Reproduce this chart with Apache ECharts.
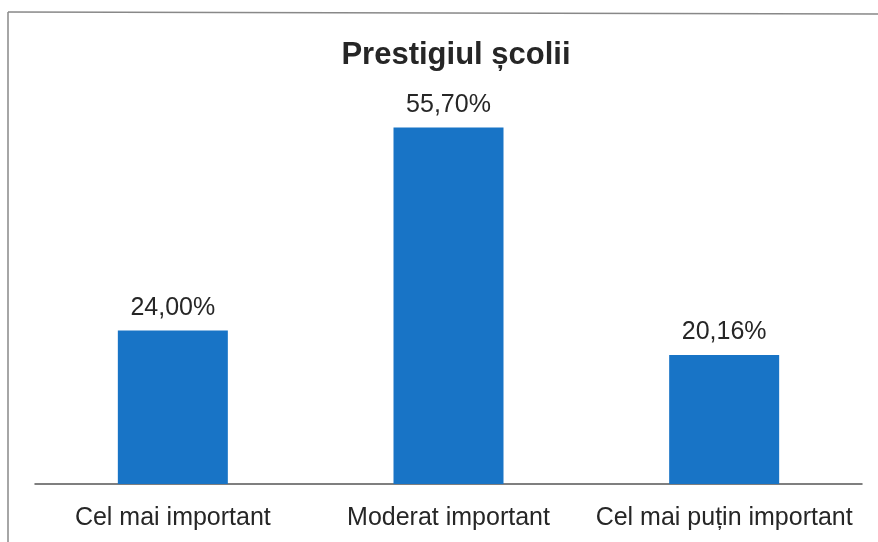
<!DOCTYPE html>
<html>
<head>
<meta charset="utf-8">
<script src="https://cdn.jsdelivr.net/npm/echarts@6/dist/echarts.min.js"></script>
<style>
html, body { margin: 0; padding: 0; background: #fff; }
#chart { width: 878px; height: 542px; }
</style>
</head>
<body>
<div id="chart"></div>
<script>
var categories = ['Cel mai important', 'Moderat important', 'Cel mai puțin important'];
var values = [24.00, 55.70, 20.16];

var chart = echarts.init(document.getElementById('chart'));
chart.setOption({
	animation: false,
	backgroundColor: '#fff',
	title: {
		text: 'Prestigiul școlii',
		left: 451,
		textAlign: 'center',
		top: 35,
		textStyle: {
			fontFamily: 'Liberation Sans',
			fontSize: 31,
			fontWeight: 'bold',
			color: '#262626'
		}
	},
	graphic: [
		{ type: 'line', shape: { x1: 8, y1: 12, x2: 878, y2: 14 }, style: { stroke: '#888', lineWidth: 1.5 } },
		{ type: 'line', shape: { x1: 8, y1: 12, x2: 8, y2: 542 }, style: { stroke: '#888', lineWidth: 1.5 } }
	],
	grid: { left: 35, right: 16, top: 100, bottom: 58 },
	xAxis: {
		type: 'category',
		data: categories,
		axisLine: { lineStyle: { color: '#555', width: 1.5 } },
		axisTick: { show: false },
		axisLabel: {
			interval: 0,
			hideOverlap: false,
			margin: 22,
			fontFamily: 'Liberation Sans',
			fontSize: 25,
			color: '#262626'
		}
	},
	yAxis: {
		type: 'value',
		min: 0,
		max: 60,
		show: false,
		splitLine: { show: false }
	},
	series: [{
		type: 'bar',
		data: values,
		barWidth: 110,
		itemStyle: { color: '#1874c6' },
		label: {
			show: true,
			position: 'top',
			distance: 10,
			fontFamily: 'Liberation Sans',
			fontSize: 25,
			color: '#262626',
			formatter: function (p) {
				return p.value.toFixed(2).replace('.', ',') + '%';
			}
		}
	}]
});
</script>
</body>
</html>
